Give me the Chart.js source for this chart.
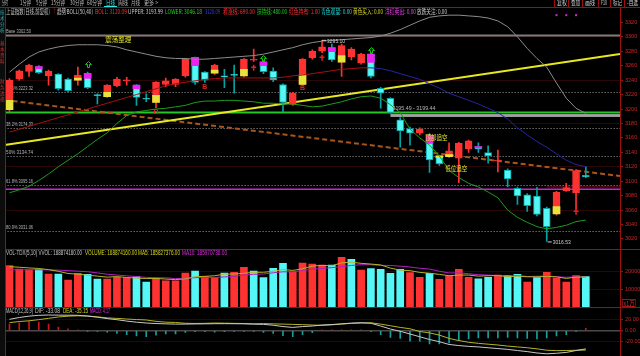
<!DOCTYPE html>
<html lang="zh-CN">
<head>
<meta charset="utf-8">
<title>上证指数 日线</title>
<script src="https://cdn.jsdelivr.net/npm/chart.js@4.4.1/dist/chart.umd.min.js"></script>
<style>
  html, body { margin: 0; padding: 0; background: #000; }
  #screen { position: relative; width: 640px; height: 356px; overflow: hidden; background: #000;
            font-family: "Noto Sans CJK SC", "Liberation Sans", sans-serif; }
  canvas { position: absolute; left: 0; }
  .t { position: absolute; white-space: nowrap; font-size: 6.5px; line-height: 7px; }
  .rule { position: absolute; background: #9a1010; }
</style>
</head>
<body>
<div id="screen">
  <canvas id="priceChart" width="640" height="243" style="top:7px"></canvas>
  <canvas id="volChart" width="640" height="57" style="top:250px"></canvas>
  <canvas id="macdChart" width="640" height="49" style="top:307px"></canvas>
  <div id="overlay"></div>
</div>
<script>
// ---- data (daily candles, oldest first) ----
const opens  = [3199, 3242, 3252, 3258.6, 3246, 3248.5, 3241.6, 3240, 3249.4, 3220,
                3217, 3232, 3239, 3233, 3214.5, 3209, 3234, 3234, 3246, 3271.6,
                3251, 3249.5, 3245.5, 3247.5, 3246, 3267.5, 3265.5, 3252.6, 3234, 3206.5,
                3234, 3271, 3280, 3285, 3265, 3272.4, 3264, 3276, 3228.7, 3214.8,
                3185, 3173, 3166.5, 3164, 3135, 3134, 3132, 3145, 3148, 3139.5,
                3128, 3115.5, 3090, 3081, 3079.5, 3062.5, 3054.6, 3087, 3084, 3108];
const highs  = [3242, 3254, 3262, 3260, 3254, 3249, 3243, 3258, 3251, 3221,
                3234, 3244, 3244, 3234, 3221, 3238, 3243, 3242, 3270, 3272,
                3252, 3262, 3255, 3261, 3270, 3283, 3267, 3257, 3235, 3223,
                3270, 3282, 3295.1, 3290, 3290, 3285, 3277, 3278, 3230, 3216,
                3188, 3175, 3174, 3166, 3136, 3153, 3154, 3157, 3153, 3149,
                3143, 3117, 3092, 3083, 3091.6, 3064, 3086, 3097, 3116, 3120];
const lows   = [3196, 3240, 3245, 3249, 3233, 3226, 3224, 3233, 3228, 3207,
                3216, 3231, 3233, 3205, 3210, 3202, 3231, 3231, 3244, 3234,
                3237, 3248, 3229.5, 3222, 3244, 3266, 3249, 3238, 3196, 3205,
                3232, 3269, 3278, 3266, 3245, 3268, 3262, 3243, 3201, 3194,
                3147, 3150, 3164, 3112, 3122, 3133, 3098, 3140, 3140, 3125,
                3113, 3092, 3068, 3058, 3052, 3016.53, 3053, 3086, 3060, 3105];
const closes = [3240, 3253, 3261, 3250.3, 3252.6, 3228, 3225.4, 3247, 3229.5, 3218.5,
                3233, 3241.6, 3240, 3216, 3213.5, 3237, 3239, 3241.6, 3269, 3237,
                3240, 3261, 3244.5, 3246.5, 3269, 3268.5, 3251.7, 3240.2, 3209, 3222,
                3269, 3280, 3286, 3268, 3288, 3283, 3276, 3245, 3222, 3195.4,
                3169.5, 3166.5, 3172, 3129.4, 3124, 3142, 3152.5, 3156, 3144.5, 3135,
                3129, 3103, 3079.5, 3066, 3054, 3037, 3084.6, 3091, 3114.6, 3106];

// coloured parts inside some bodies (signal colouring)
const yellowIdx = [0, 7, 10, 15, 21, 24, 30, 34, 44, 45, 56];
const yellowLo  = [3199, 3240, 3217, 3209, 3249.5, 3246, 3234, 3265, 3133, 3134, 3054.6];
const yellowHi  = [3212, 3243, 3223, 3219, 3254, 3255, 3247, 3274, 3135, 3137, 3065];
const pinkIdx   = [3, 8, 13, 19, 26, 33, 37, 43, 48];
const pinkLo    = [3255.5, 3242.5, 3227.7, 3260, 3260, 3279.4, 3264.7, 3152.5, 3146];
const pinkHi    = [3258.6, 3249.4, 3233, 3271.6, 3265.5, 3285, 3276, 3164, 3148];

// BOLL(50,40)
const bollMid = [3168, 3172, 3176, 3180, 3184, 3188, 3192, 3196, 3200, 3204,
                 3208, 3212, 3216, 3220, 3224, 3228, 3232, 3235, 3237, 3239,
                 3241, 3242, 3243, 3243, 3243, 3243, 3243, 3243, 3244, 3246,
                 3247, 3249, 3251, 3253, 3255, 3256, 3257, 3257, 3256, 3253,
                 3249, 3245, 3241, 3235, 3229, 3222, 3217, 3212, 3207, 3201,
                 3195, 3186, 3174, 3164, 3155, 3147, 3138, 3129, 3123, 3120.09];
const bollUpper = [3251, 3262, 3272, 3279, 3283, 3286, 3288, 3289, 3289, 3289,
                   3288, 3286, 3282, 3279, 3276, 3273, 3271, 3270, 3270, 3269,
                   3269, 3270, 3271, 3272, 3273, 3274, 3276, 3279, 3282, 3285,
                   3289, 3292, 3294, 3295, 3296, 3297, 3298, 3299, 3301, 3305,
                   3310, 3316, 3322, 3327, 3329, 3330, 3330, 3329, 3328, 3326,
                   3322, 3314, 3300, 3284, 3270, 3258, 3236, 3215, 3201, 3193.99];
const bollLower = [3084, 3088, 3093, 3101, 3110, 3120, 3129, 3138, 3148, 3158,
                   3167, 3180, 3191, 3196, 3198, 3200, 3201, 3203, 3205, 3209,
                   3211, 3211, 3212, 3212, 3211, 3210, 3208, 3208, 3207, 3207,
                   3205, 3203, 3204, 3207, 3210, 3214, 3217, 3218, 3215, 3206,
                   3195, 3172, 3160, 3150, 3135, 3115, 3105, 3097, 3092, 3085,
                   3077, 3060, 3050, 3043, 3037, 3034, 3036, 3039, 3044, 3046.18];

// drawn studies on the price pane
const fibNames = ['Base', '23.6%', '38.2%', '50%', '61.8%', '80.9%'];
const fibVals  = [3302.50, 3223.32, 3174.33, 3134.74, 3095.16, 3031.06];
const supportVal = 3195;
const magentaVal = 3088.8;
const gapFrom = 39, gapLo = 3189, gapHi = 3193;
const trendX   = [-0.5, 62.5];
const riseY    = [3150.1, 3276.2];
const fallY    = [3212.5, 3107.2];
const buyIdx = [8, 26, 37],  buyVal = [3262, 3271, 3282];
const bIdx   = [15, 20, 30], bVal   = [3195.8, 3230.5, 3229];
const sellIdx = [25, 32, 58], sellVal = [3257.2, 3271, 3057.8];
const dotIdx = [56, 57, 58], dotVal = 3330;
const priceTicks = [3020, 3040, 3060, 3080, 3100, 3120, 3140, 3160, 3180, 3200,
                    3220, 3240, 3260, 3280, 3300, 3320];

// volume (x1万) and its averages
const volumes = [22950, 21100, 20550, 20900, 18300, 18300, 15000, 18700, 18150, 15550,
                 15550, 16500, 16100, 16850, 13900, 16100, 14600, 14600, 18900, 20000,
                 17050, 16300, 18900, 19250, 22050, 20000, 16300, 21500, 24250, 19600,
                 24450, 23900, 23300, 23300, 27600, 26500, 20550, 21300, 20900, 18700,
                 20900, 19100, 16500, 18700, 15400, 17200, 20900, 16500, 15700, 16500,
                 17800, 17600, 18150, 13900, 16300, 19250, 16100, 13900, 17400, 16887];
const volUp = [1,1,1,0,1,0,1,1,0,0, 1,1,1,0,0,1,1,1,1,0, 1,1,0,1,1,0,0,0,0,1,
               1,1,1,0,1,0,1,0,0,0, 0,1,1,0,1,1,1,1,0,0, 1,0,0,1,0,1,1,1,1,0];
const volMa5 = [22400, 22100, 21700, 21400, 20760, 19830, 18610, 18240, 17690, 17140,
                16590, 16890, 16370, 16110, 15780, 15890, 15510, 15210, 15620, 16840,
                17030, 17370, 18230, 18300, 18710, 19300, 19300, 19820, 20820, 20330,
                21220, 22740, 23100, 22910, 24510, 24920, 24250, 23850, 23370, 21590,
                20470, 20180, 19220, 18780, 18120, 17380, 17740, 17740, 17140, 17360,
                17480, 16820, 17150, 16790, 16750, 17040, 16740, 15890, 16590, 16710];
const volMa10 = [20600, 20700, 20700, 20700, 20600, 20500, 20200, 19900, 19600, 18950,
                 18210, 17750, 17305, 16900, 16460, 16240, 16200, 15790, 15865, 16310,
                 16460, 16440, 16720, 16960, 17775, 18165, 18335, 19025, 19560, 19520,
                 20260, 21020, 21460, 21865, 22420, 23070, 23495, 23475, 23140, 23050,
                 22695, 22215, 21535, 21075, 19855, 18925, 18960, 18480, 17960, 17740,
                 17430, 17280, 17445, 16965, 17055, 17260, 16780, 16520, 16690, 16729];
const volTicks = [10000, 20000];

// MACD(12,26,9)
const dif = [20.7, 24, 26.5, 28, 28.5, 28.3, 28.2, 28, 26.5, 24.5,
             22, 20, 17.5, 15.5, 14, 13, 12.5, 12, 12, 12.3,
             12.5, 12.7, 12.8, 12.7, 12.5, 12, 11.5, 10, 7.5, 6,
             7.5, 8.5, 10.3, 11.2, 12.5, 13.8, 14.5, 13.5, 8.5, 3,
             -1, -6, -11, -16, -20, -25, -27, -28.5, -29.5, -31,
             -32.5, -34, -36, -38, -40.5, -42, -41, -39.5, -36, -33.08];
const dea = [14.7, 16.7, 18, 20.1, 22.5, 25, 26.4, 27.1, 26.9, 25.2,
             23.3, 22.4, 21.2, 20.3, 19.5, 17, 15.5, 15, 13.5, 13.2,
             13.4, 13.9, 13.7, 13.3, 13.1, 12.4, 13, 12.4, 12, 11.5,
             11, 10.3, 9.8, 10.7, 12, 13.3, 14, 14.4, 12, 9,
             6, 3.5, -1.5, -4, -8, -14, -18, -21, -23, -24.5,
             -26, -28, -29.5, -31, -33, -35.5, -36.2, -36, -35.6, -35.15];
const macd = [12, 14.5, 17, 15.8, 12, 6.7, 3.6, 1.8, -0.8, -1.5,
              -2.5, -4.8, -7.3, -9.7, -11, -8, -6, -6, -3, -1.8,
              -1.8, -2.5, -1.8, -1.2, -1.2, -0.8, -3, -4.8, -9, -11,
              -7, -3.6, 1, 1, 1, 1, 1, -1.8, -7, -12,
              -14, -19, -19, -24, -24, -22, -18, -15, -13, -13,
              -13, -12, -13, -14, -15, -13, -9.7, -7, -0.8, 4.17];
const macdTicks = [-20, 0, 20];

// 60 sessions plus three empty slots on the right edge
const slots = Array.from({ length: 63 }, (_, i) => String(i));

const UP = '#ff3232', DN = '#54f6f6', DN_EDGE = '#00a4a4';
const AXIS_RED = '#9a1010', LABEL_RED = '#cc2626', GRID_RED = '#2c0606';
const NUM_FONT = 'Liberation Sans';
const CJK_FONT = '"Noto Sans CJK SC"';

function sparse(idx, lo, hi) {
    const out = new Array(opens.length).fill(null);
    idx.forEach((i, k) => { out[i] = [lo[k], hi[k]]; });
    return out;
}

function paneOptions(yScale) {
    return {
        responsive: false,
        animation: false,
        events: [],
        layout: { padding: { left: 4.6, right: 0, top: 0, bottom: 0 } },
        plugins: { legend: { display: false }, tooltip: { enabled: false } },
        scales: {
            x: { type: 'category', labels: slots, offset: true, display: false },
            xl: { type: 'linear', min: -0.5, max: 62.5, offset: false, display: false },
            y: yScale,
        },
    };
}

function rightAxis(min, max, ticks, fmt, gridColor) {
    return {
        position: 'right',
        min, max,
        afterFit: (s) => { s.width = 20; s.paddingTop = 0; s.paddingBottom = 0; },
        afterBuildTicks: (s) => { s.ticks = ticks.map((v) => ({ value: v })); },
        border: { display: true, color: AXIS_RED },
        grid: { color: gridColor, tickColor: AXIS_RED, tickLength: 3,
                lineWidth: (c) => (c.tick && c.tick.value === 0 ? 1.5 : 1) },
        ticks: { color: LABEL_RED, padding: 2, font: { size: 5.5, family: NUM_FONT }, callback: fmt },
    };
}

// horizontal studies drawn under the candles, markers and notes on top
const priceDecor = {
    id: 'priceDecor',
    beforeDatasetsDraw(chart) {
        const { ctx, chartArea: a, scales: { y, xl } } = chart;
        ctx.save();
        fibVals.forEach((v, k) => {
            const py = Math.round(y.getPixelForValue(v)) + 0.5;
            ctx.beginPath();
            if (k === 0) { ctx.strokeStyle = '#7c7c7c'; ctx.lineWidth = 2; ctx.setLineDash([]); }
            else { ctx.strokeStyle = '#9c9c9c'; ctx.lineWidth = 1; ctx.setLineDash([1, 2]); }
            ctx.moveTo(a.left, py); ctx.lineTo(a.right, py); ctx.stroke();
            ctx.setLineDash([]);
            ctx.fillStyle = '#b4b4b4';
            ctx.font = '6px ' + NUM_FONT;
            const label = fibNames[k] + ' ' + v.toFixed(2);
            ctx.fillText(label, a.left + 1.5, py - 2.5, k === 0 ? 25 : 27);
        });
        const gx = xl.getPixelForValue(gapFrom);
        ctx.fillStyle = '#a0a0a0';
        ctx.fillRect(gx, y.getPixelForValue(gapHi), a.right - gx, y.getPixelForValue(gapLo) - y.getPixelForValue(gapHi));
        let py = y.getPixelForValue(supportVal);
        ctx.strokeStyle = '#26c626'; ctx.lineWidth = 2;
        ctx.beginPath(); ctx.moveTo(a.left, py); ctx.lineTo(a.right, py); ctx.stroke();
        py = y.getPixelForValue(magentaVal);
        ctx.strokeStyle = '#d022d0'; ctx.lineWidth = 1.5;
        ctx.beginPath(); ctx.moveTo(a.left, py); ctx.lineTo(a.right, py); ctx.stroke();
        py = y.getPixelForValue(closes[57] + 1);
        ctx.strokeStyle = '#8a1010'; ctx.lineWidth = 1;
        ctx.beginPath(); ctx.moveTo(xl.getPixelForValue(55), py); ctx.lineTo(a.right, py); ctx.stroke();
        ctx.restore();
    },
    afterDatasetsDraw(chart) {
        const { ctx, scales: { y, xl } } = chart;
        ctx.save();
        // hollow green up arrows
        ctx.strokeStyle = '#10c810'; ctx.lineWidth = 1;
        buyIdx.forEach((i, k) => {
            const px = Math.round(xl.getPixelForValue(i)) + 0.5, py = Math.round(y.getPixelForValue(buyVal[k])) + 0.5;
            ctx.beginPath();
            ctx.moveTo(px, py - 3); ctx.lineTo(px + 3, py); ctx.lineTo(px + 1, py); ctx.lineTo(px + 1, py + 3);
            ctx.lineTo(px - 1, py + 3); ctx.lineTo(px - 1, py); ctx.lineTo(px - 3, py); ctx.closePath();
            ctx.stroke();
        });
        // red B marks
        ctx.fillStyle = '#e02020'; ctx.font = 'bold 7px ' + NUM_FONT; ctx.textAlign = 'center'; ctx.textBaseline = 'middle';
        bIdx.forEach((i, k) => ctx.fillText('B', xl.getPixelForValue(i), y.getPixelForValue(bVal[k])));
        // red small arrows
        ctx.strokeStyle = '#e02020'; ctx.lineWidth = 1.5;
        sellIdx.forEach((i, k) => {
            const px = xl.getPixelForValue(i), py = y.getPixelForValue(sellVal[k]);
            ctx.beginPath(); ctx.moveTo(px, py - 3); ctx.lineTo(px, py + 3);
            ctx.moveTo(px - 2.5, py - 0.5); ctx.lineTo(px + 2.5, py - 0.5); ctx.stroke();
        });
        ctx.fillStyle = '#e020e0';
        dotIdx.forEach((i) => ctx.fillRect(xl.getPixelForValue(i) - 1, y.getPixelForValue(dotVal) - 1, 2, 2));
        // extreme notes
        ctx.textAlign = 'left'; ctx.textBaseline = 'middle'; ctx.font = '6px ' + NUM_FONT;
        ctx.fillStyle = '#d0d0d0'; ctx.strokeStyle = '#d0d0d0'; ctx.lineWidth = 1;
        let px = xl.getPixelForValue(32), py = y.getPixelForValue(highs[32]);
        ctx.beginPath(); ctx.moveTo(px, py); ctx.lineTo(px + 4, py); ctx.stroke();
        ctx.fillText(highs[32].toFixed(2), px + 5, py + 1, 18);
        px = xl.getPixelForValue(55); py = y.getPixelForValue(lows[55]);
        ctx.beginPath(); ctx.moveTo(px + 1, py + 0.5); ctx.lineTo(px + 5, py + 0.5); ctx.stroke();
        ctx.fillText(lows[55].toFixed(2), px + 6, py + 1, 18);
        px = xl.getPixelForValue(gapFrom);
        ctx.fillStyle = '#b8b8b8';
        ctx.fillText('3195.49 - 3199.44', px + 2, y.getPixelForValue(gapHi) - 6, 43);
        // yellow study notes
        ctx.fillStyle = '#e6e632'; ctx.font = '6.5px ' + CJK_FONT;
        ctx.fillText('震荡整理', xl.getPixelForValue(9.8), y.getPixelForValue(3296.5), 27);
        ctx.fillText('顶部追空', xl.getPixelForValue(42.6), y.getPixelForValue(3160), 22);
        ctx.fillText('低位追空', xl.getPixelForValue(44.6), y.getPixelForValue(3117), 22);
        ctx.restore();
    },
};

new Chart(document.getElementById('priceChart'), {
    type: 'bar',
    data: {
        labels: slots,
        datasets: [
            { type: 'line', data: bollMid, borderWidth: 1, pointRadius: 0, order: 1,
              segment: { borderColor: (c) => (c.p1.parsed.y >= c.p0.parsed.y ? '#a81010' : '#2424a8') } },
            { type: 'line', data: bollUpper, borderColor: '#8c8c8c', borderWidth: 1, pointRadius: 0, order: 1 },
            { type: 'line', data: bollLower, borderColor: '#1c9c1c', borderWidth: 1, pointRadius: 0, order: 1 },
            { data: sparse(yellowIdx, yellowLo, yellowHi), backgroundColor: '#e4e43c', barThickness: 7, grouped: false, order: 2 },
            { data: sparse(pinkIdx, pinkLo, pinkHi), backgroundColor: '#f020f0', barThickness: 7, grouped: false, order: 2 },
            { data: opens.map((o, i) => [o, closes[i]]), grouped: false, order: 3, barThickness: 7, minBarLength: 1,
              borderWidth: 1, borderSkipped: false,
              backgroundColor: opens.map((o, i) => (closes[i] >= o ? UP : DN)),
              borderColor: opens.map((o, i) => (closes[i] >= o ? UP : DN_EDGE)) },
            { data: lows.map((l, i) => [l, highs[i]]), grouped: false, order: 4, barThickness: 1,
              backgroundColor: opens.map((o, i) => (closes[i] >= o ? UP : DN_EDGE)) },
            { type: 'line', xAxisID: 'xl', data: trendX.map((x, k) => ({ x, y: riseY[k] })),
              borderColor: '#e8e822', borderWidth: 2, pointRadius: 0, order: 5 },
            { type: 'line', xAxisID: 'xl', data: trendX.map((x, k) => ({ x, y: fallY[k] })),
              borderColor: '#a8561c', borderWidth: 2, borderDash: [5, 3], pointRadius: 0, order: 5 },
        ],
    },
    options: paneOptions(rightAxis(3004.7, 3341.3, priceTicks, (v) => String(v),
        (c) => (c.tick && (c.tick.value - 3000) % 60 === 0 ? GRID_RED : 'transparent'))),
    plugins: [priceDecor],
});

new Chart(document.getElementById('volChart'), {
    type: 'bar',
    data: {
        labels: slots,
        datasets: [
            { type: 'line', data: volMa5, borderColor: '#b4b428', borderWidth: 1, pointRadius: 0, order: 1 },
            { type: 'line', data: volMa10, borderColor: '#b020c0', borderWidth: 1, pointRadius: 0, order: 1 },
            { data: volumes, barThickness: 7, order: 2,
              backgroundColor: volUp.map((u) => (u ? UP : DN)) },
        ],
    },
    options: paneOptions(rightAxis(0, 31667, volTicks, (v) => String(v), GRID_RED)),
});

new Chart(document.getElementById('macdChart'), {
    type: 'bar',
    data: {
        labels: slots,
        datasets: [
            { type: 'line', data: dif, borderColor: '#c8c8c8', borderWidth: 1, pointRadius: 0, order: 1 },
            { type: 'line', data: dea, borderColor: '#b4b428', borderWidth: 1, pointRadius: 0, order: 1 },
            { data: macd, barThickness: 1, order: 2,
              backgroundColor: macd.map((m) => (m >= 0 ? '#c81818' : '#12a0a0')) },
        ],
    },
    options: paneOptions(rightAxis(-46, 43.1, macdTicks, (v) => v.toFixed(2),
        (c) => (c.tick && c.tick.value === 0 ? '#4a4a4a' : GRID_RED))),
});

// ---- chrome: tab bar, pane titles, frame lines ----
const overlay = document.getElementById('overlay');
// put text and squeeze it into the width it takes in the screenshot
function put(text, x, y, color, w, css) {
    const s = document.createElement('span');
    s.className = 't';
    s.textContent = text;
    s.style.left = x + 'px';
    s.style.top = y + 'px';
    s.style.color = color;
    if (css) Object.assign(s.style, css);
    overlay.appendChild(s);
    const natural = s.getBoundingClientRect().width;
    if (w && natural > 0) {
        s.style.transformOrigin = '0 0';
        s.style.transform = 'scaleX(' + (w / natural) + ')';
    }
}
function rule(x, y, w, h, color) {
    const d = document.createElement('div');
    d.className = 'rule';
    Object.assign(d.style, { left: x + 'px', top: y + 'px', width: w + 'px', height: h + 'px' });
    if (color) d.style.background = color;
    overlay.appendChild(d);
}

rule(0, 0, 5, 356, '#0c0c0c');
rule(0, 7, 640, 1);
rule(6, 249, 634, 1);
rule(6, 307, 634, 1);
rule(5, 7, 1, 349);

// side tabs, written top to bottom
[['技术分析', 9, '#2cb4b4'], ['基本资料', 40, '#c83232'], ['财务透视', 78, '#c83232']].forEach(([t, y0, c]) => {
    [...t].forEach((ch, k) => put(ch, 0, y0 + k * 6, c, 4.5, { fontSize: '4.5px', lineHeight: '6px' }));
});

const tabs = ['分时', '1分钟', '5分钟', '15分钟', '30分钟', '60分钟', '日线', '周线', '月线', '更多 >'];
const tabLeft = [2, 20, 36, 51, 70, 87, 106, 118, 131, 144];
const tabWidth = [6, 11, 11, 14, 14, 15, 9, 10, 9, 14];
tabs.forEach((t, k) => put(t, tabLeft[k], -1.5, t === '日线' ? '#30e8e8' : '#b8b8b8', tabWidth[k]));
rule(104, 6, 13, 1, '#30e8e8');
const buttons = ['复权', '叠加', '画线', 'F10', '标记', '-自选'];
const buttonLeft = [557, 571, 585, 601, 613, 627];
const buttonWidth = [10, 9, 10, 6, 9, 11];
buttons.forEach((b, k) => {
    put(b, buttonLeft[k], -1.5, '#d0d0d0', buttonWidth[k]);
    rule(buttonLeft[k] - 3, 0, 1, 7);
});

const header = [
    ['上证指数(日线,前复权)', 6, 44, '#c8c8c8'], ['↑', 53, 3, '#ff2020'], ['趋势BOLL(50,40)', 57, 36, '#c8c8c8'],
    ['BOLL: 3120.09', 95, 32, '#ff3030'], ['UPPER: 3193.99', 128, 35, '#c8c8c8'], ['LOWER: 3046.18', 165, 37, '#22d022'],
    ['3120.09', 205, 15, '#3a3aff'], ['看涨线: 690.00', 223, 32, '#ff3030'], ['扶持线: 480.00', 257, 30, '#22d022'],
    ['红色持有: 1.00', 289, 31, '#ff3030'], ['青色观望: 0.00', 321, 31, '#20d8d8'], ['黄色买入: 0.00', 353, 30, '#d8d820'],
    ['洋红卖出: 0.00', 385, 31, '#f040f0'], ['放跌关注: 0.00', 417, 30, '#d0d0d0'],
];
header.forEach(([t, x, w, c]) => put(t, x, 7.5, c, w));

const volHeader = [
    ['VOL-TDX(5,10)  VVOL: 168874160.00', 6, 76, '#c8c8c8'], ['VOLUME: 168874160.00', 85, 52, '#d8d820'],
    ['MA5: 185827376.00', 138, 42, '#d8d820'], ['MA10: 185970736.00', 182, 45, '#e030e0'],
];
volHeader.forEach(([t, x, w, c]) => put(t, x, 249, c, w, { fontFamily: NUM_FONT }));

const macdHeader = [
    ['MACD(12,26,9)', 6, 27, '#c8c8c8'], ['DIF: -33.08', 35, 25, '#c8c8c8'],
    ['DEA: -35.15', 63, 25, '#d8d820'], ['MACD: 4.17', 90, 20, '#e030e0'],
];
macdHeader.forEach(([t, x, w, c]) => put(t, x, 306.5, c, w, { fontFamily: NUM_FONT }));

put('x1万', 622, 299, '#d83030', 14, { border: '1px solid #9a1010', lineHeight: '6px', padding: '0 1px' });
</script>
</body>
</html>
